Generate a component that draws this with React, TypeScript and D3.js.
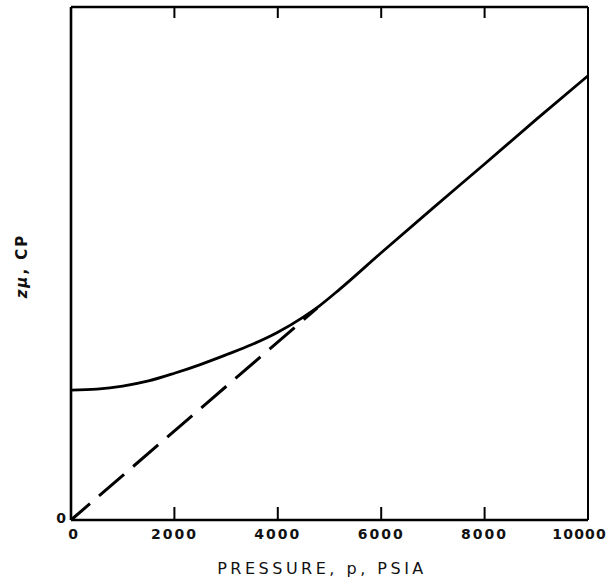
import React from "react";
import * as d3 from "d3";

const pressure = [0, 500, 1000, 1500, 2000, 2500, 3000, 3500, 4000, 4500, 4800, 5200, 6000, 7000, 8000, 9000, 10000];
const zmu = [2.53, 2.55, 2.61, 2.71, 2.86, 3.03, 3.22, 3.42, 3.66, 3.96, 4.17, 4.5, 5.21, 6.08, 6.94, 7.81, 8.66];
const tangentP = [0, 4760];
const tangentZ = [0, 4.13];
const xTicks = [0, 2000, 4000, 6000, 8000, 10000];
const xTickLabels = ["0", "2000", "4000", "6000", "8000", "10000"];

export default function App() {
  const W = 610, H = 579;
  const x = d3.scaleLinear().domain([0, 10000]).range([71, 588]);
  const y = d3.scaleLinear().domain([0, 10]).range([520, 7]);
  const line = d3.line<[number, number]>().x(d => x(d[0])).y(d => y(d[1])).curve(d3.curveMonotoneX);
  const curve = pressure.map((p, i) => [p, zmu[i]] as [number, number]);
  const tangent = tangentP.map((p, i) => [p, tangentZ[i]] as [number, number]);
  const font = "'DejaVu Sans', sans-serif";
  const last = xTicks.length - 1;
  return (
    <svg width={W} height={H} style={{ position: "absolute", left: 0, top: 0, background: "#fff" }}>
      <rect x={0} y={0} width={W} height={H} fill="#fff" />
      {/* frame */}
      <line x1={x(0)} x2={x(10000)} y1={y(0)} y2={y(0)} stroke="#000" strokeWidth={2.6} />
      <line x1={x(0)} x2={x(10000)} y1={y(10)} y2={y(10)} stroke="#000" strokeWidth={2.4} />
      <line x1={x(0)} x2={x(0)} y1={y(10)} y2={y(0)} stroke="#000" strokeWidth={2.6} />
      <line x1={x(10000)} x2={x(10000)} y1={y(10)} y2={y(0)} stroke="#000" strokeWidth={2} />
      {/* ticks */}
      {xTicks.slice(1, -1).map(t => (
        <g key={t}>
          <line x1={x(t)} x2={x(t)} y1={y(0)} y2={y(0) - 13} stroke="#000" strokeWidth={2} />
          <line x1={x(t)} x2={x(t)} y1={y(10)} y2={y(10) + 11} stroke="#000" strokeWidth={2} />
        </g>
      ))}
      {xTicks.map((t, i) => (
        i === last ? (
          <text key={t} x={607} y={539} textAnchor="end"
            fontFamily={font} fontWeight="bold" fontSize={14} letterSpacing={1.2} fill="#111">{xTickLabels[i]}</text>
        ) : (
          <text key={t} x={x(t) + (i === 0 ? 3 : 0)} y={539} textAnchor="middle"
            fontFamily={font} fontWeight="bold" fontSize={14} letterSpacing={2} fill="#111">{xTickLabels[i]}</text>
        )
      ))}
      <text x={61} y={523} textAnchor="middle" fontFamily={font} fontWeight="bold" fontSize={14} fill="#111">0</text>
      {/* axis titles */}
      <text x={322} y={574} textAnchor="middle" fontFamily={font} fontSize={16} letterSpacing={3.5} fill="#111">PRESSURE, p, PSIA</text>
      <text transform="translate(27,266) rotate(-90)" textAnchor="middle" fontFamily={font} fontSize={15} fontWeight="bold" letterSpacing={2} fill="#111">
        <tspan fontStyle="italic">zμ</tspan>, CP
      </text>
      {/* data */}
      <path d={line(tangent) || ""} fill="none" stroke="#000" strokeWidth={3} strokeDasharray="33 12" strokeDashoffset={8} />
      <path d={line(curve) || ""} fill="none" stroke="#000" strokeWidth={2.8} />
    </svg>
  );
}
